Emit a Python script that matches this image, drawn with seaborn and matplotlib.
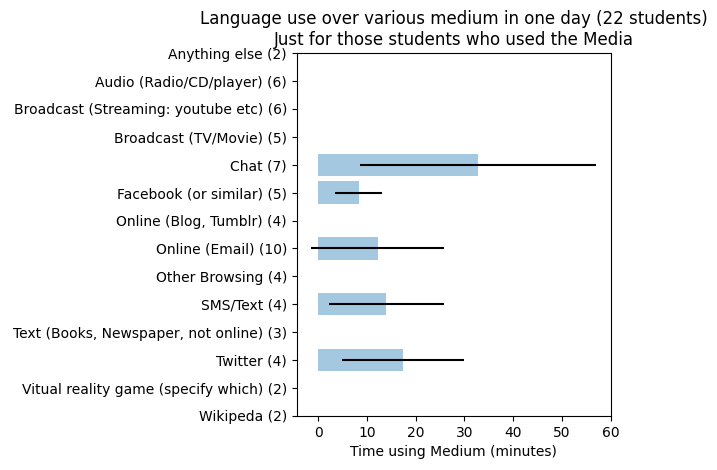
import numpy as np
import matplotlib
matplotlib.use("Agg")
import matplotlib.pyplot as plt
import seaborn as sns

media = [
    "Anything else (2)",
    "Audio (Radio/CD/player) (6)",
    "Broadcast (Streaming: youtube etc) (6)",
    "Broadcast (TV/Movie) (5)",
    "Chat (7)",
    "Facebook (or similar) (5)",
    "Online (Blog, Tumblr) (4)",
    "Online (Email) (10)",
    "Other Browsing (4)",
    "SMS/Text (4)",
    "Text (Books, Newspaper, not online) (3)",
    "Twitter (4)",
    "Vitual reality game (specify which) (2)",
    "Wikipeda (2)",
]
# mean minutes and std (NaN where nobody reported a time)
mean_minutes = [np.nan, np.nan, np.nan, np.nan, 32.8, 8.3, np.nan, 12.2,
                np.nan, 14.0, np.nan, 17.4, np.nan, np.nan]
std_minutes = [np.nan, np.nan, np.nan, np.nan, 24.2, 4.8, np.nan, 13.6,
               np.nan, 11.8, np.nan, 12.5, np.nan, np.nan]

fig, ax = plt.subplots(figsize=(7.17, 4.70), dpi=100)
fig.subplots_adjust(left=0.414, right=0.852, bottom=0.115, top=0.887)

sns.barplot(x=mean_minutes, y=media, order=media, color="#1f77b4", alpha=0.4,
            saturation=1, errorbar=None, width=0.8, ax=ax)

ypos = np.arange(len(media))
ax.errorbar(mean_minutes, ypos, xerr=std_minutes, fmt="none",
            ecolor="black", elinewidth=1.5, capsize=0)

ax.set_ylim(len(media) - 1, 0)
ax.set_xlim(-4.36, 60)
ax.set_xticks(np.arange(0, 61, 10))
ax.set_ylabel("")
ax.set_xlabel("Time using Medium (minutes)")
ax.set_title("Language use over various medium in one day (22 students)\n"
             "Just for those students who used the Media")

plt.savefig("out.png")
